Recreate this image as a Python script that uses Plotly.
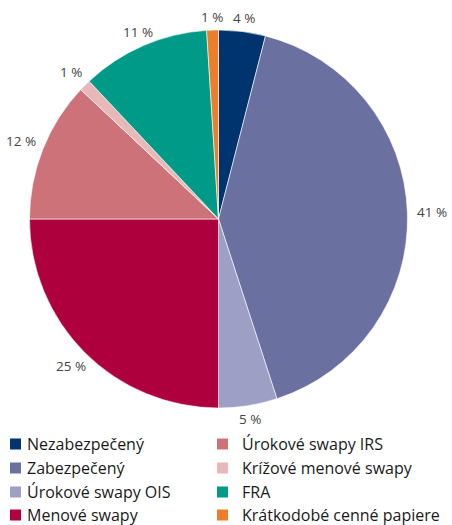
import math
import plotly.graph_objects as go

# Podiel jednotlivých segmentov (v %)
categories = [
    "Nezabezpečený",
    "Zabezpečený",
    "Úrokové swapy OIS",
    "Menové swapy",
    "Úrokové swapy IRS",
    "Krížové menové swapy",
    "FRA",
    "Krátkodobé cenné papiere",
]
shares = [4, 41, 5, 25, 12, 1, 11, 1]
colors = [
    "#00346e",
    "#6a70a0",
    "#9d9fc4",
    "#ad003c",
    "#cc7278",
    "#e8b8b8",
    "#009a89",
    "#ec7d2a",
]

W, H = 452, 525
FONT = "Open Sans"

# Geometria koláča (v pixeloch)
CX, CY, R = 218.5, 219.0, 189.0

fig = go.Figure()
fig.add_trace(go.Pie(
    labels=categories,
    values=shares,
    sort=False,
    direction="clockwise",
    rotation=0,
    marker=dict(colors=colors, line=dict(color="white", width=0.6)),
    textinfo="none",
    hoverinfo="label+value",
    showlegend=False,
    domain=dict(
        x=[(CX - R) / W, (CX + R) / W],
        y=[1 - (CY + R) / H, 1 - (CY - R) / H],
    ),
))

annotations, shapes = [], []

# Popisky hodnôt mimo koláča, na osi stredu každého výseku
total = sum(shares)
cum = 0.0
for v in shares:
    mid = (cum + v / 2) / total * 2 * math.pi
    cum += v
    s, c = math.sin(mid), math.cos(mid)
    r = R + 13 + 12 * s * s
    annotations.append(dict(
        text=f"{v} %", xref="paper", yref="paper",
        x=(CX + r * s) / W, y=1 - (CY - r * c) / H,
        xanchor="center", yanchor="middle", showarrow=False,
        font=dict(family=FONT, size=13.5, color="#444444"),
    ))

# Legenda v dvoch stĺpcoch (4 riadky v každom)
col_x = [10, 217]
text_dx = [15, 23]
row_y = [444, 468, 492, 515]
sq = 11
for i, (name, col) in enumerate(zip(categories, colors)):
    c, r = divmod(i, 4)
    x0, yc = col_x[c], row_y[r]
    shapes.append(dict(
        type="rect", xref="paper", yref="paper",
        x0=x0 / W, x1=(x0 + sq) / W,
        y0=1 - (yc + sq / 2) / H, y1=1 - (yc - sq / 2) / H,
        fillcolor=col, line=dict(width=0),
    ))
    annotations.append(dict(
        text=name, xref="paper", yref="paper",
        x=(x0 + text_dx[c]) / W, y=1 - yc / H,
        xanchor="left", yanchor="middle", showarrow=False,
        font=dict(family=FONT, size=16, color="#1a1a1a"),
    ))

fig.update_layout(
    width=W, height=H,
    margin=dict(l=0, r=0, t=0, b=0),
    paper_bgcolor="white",
    plot_bgcolor="white",
    shapes=shapes,
    annotations=annotations,
)

fig.write_html("out.html")
